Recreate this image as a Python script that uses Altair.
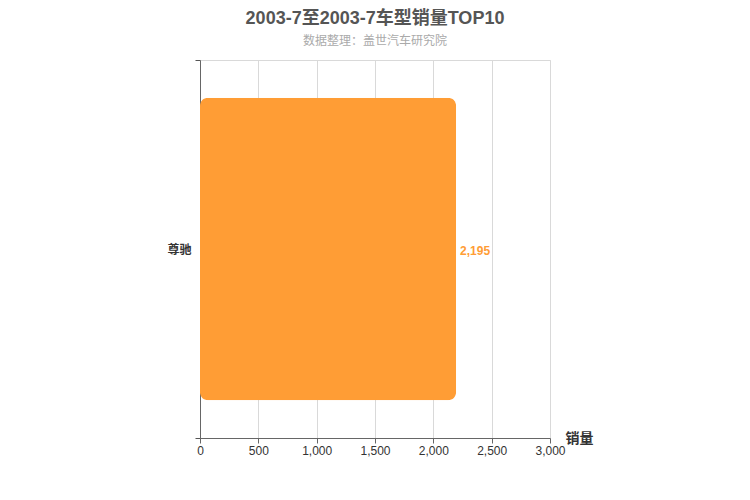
import altair as alt
import pandas as pd

models = ["尊驰"]
sales = [2195]
x_ticks = [0, 500, 1000, 1500, 2000, 2500, 3000]

df = pd.DataFrame({"model": models, "sales": sales})

FONT = "Arial, Liberation Sans, Noto Sans CJK SC"

base = alt.Chart(df).encode(
    y=alt.Y("model:N", title=None,
            scale=alt.Scale(paddingInner=0, paddingOuter=0),
            axis=alt.Axis(tickBand="extent", tickSize=5, tickColor="#555",
                          domainColor="#666", labelColor="#333", labelFontSize=12,
                          labelFontWeight="bold", labelFont=FONT, labelPadding=4,
                          grid=False))
)

bars = base.mark_bar(color="#FF9D35", height={"band": 0.8}, cornerRadius=8).encode(
    x=alt.X("sales:Q", title="销量",
            scale=alt.Scale(domain=[0, 3000], nice=False),
            axis=alt.Axis(values=x_ticks, format=",.0f", tickSize=5, tickColor="#666",
                          domainColor="#666", labelColor="#333", labelFontSize=12,
                          labelFont=FONT, labelFlush=False, gridColor="#d9d9d9",
                          titleX=365, titleY=0, titleAlign="left", titleBaseline="middle",
                          titleAngle=0, titleFontSize=14, titleFontWeight="bold",
                          titleColor="#333", titleFont=FONT))
)

labels = base.mark_text(align="left", baseline="middle", dx=4, dy=2, color="#FF9D35",
                        fontSize=12, fontWeight="bold", font=FONT).encode(
    x="sales:Q", text=alt.Text("sales:Q", format=",.0f")
)

chart = (bars + labels).properties(
    width=350, height=378,
    title=alt.TitleParams(
        "2003-7至2003-7车型销量TOP10",
        subtitle="数据整理：盖世汽车研究院",
        fontSize=18, fontWeight="bold", color="#555", font=FONT,
        subtitleFontSize=12, subtitleColor="#aaa", subtitleFont=FONT,
        subtitlePadding=8, offset=7, anchor="middle"),
    autosize=alt.AutoSizeParams(type="none"),
    padding={"left": 192, "top": 52, "right": 192, "bottom": 54},
).configure_view(stroke="#d9d9d9")

chart.save("out.html", embed_options={"renderer": "svg", "actions": False})
